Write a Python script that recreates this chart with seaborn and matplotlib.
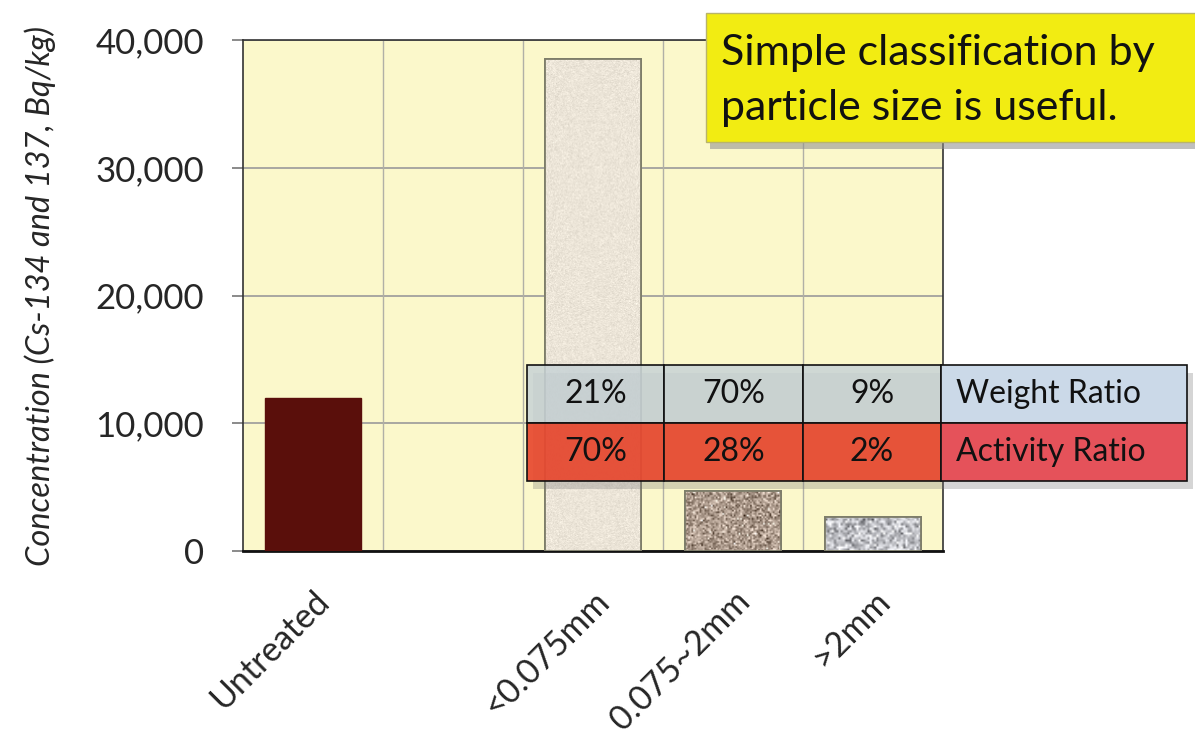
import numpy as np
import pandas as pd
import matplotlib
matplotlib.use("Agg")
import matplotlib.pyplot as plt
from matplotlib.patches import Rectangle
import seaborn as sns

# Radiocesium concentration by soil fraction
categories = ["Untreated", "", "<0.075mm", "0.075~2mm", ">2mm"]
measured = ["Untreated", "<0.075mm", "0.075~2mm", ">2mm"]
concentration = [12000, 38500, 4700, 2700]
y_ticks = [0, 10000, 20000, 30000, 40000]

# Share of each fraction (columns: <0.075mm, 0.075~2mm, >2mm)
table_rows = ["Weight Ratio", "Activity Ratio"]
weight_ratio = ["21%", "70%", "9%"]
activity_ratio = ["70%", "28%", "2%"]

callout_lines = ["Simple classification by", "particle size is useful."]

bar_colors = {"Untreated": "#5a0f0b", "<0.075mm": "#ebe4d6",
              "0.075~2mm": "#a8978a", ">2mm": "#b9babf"}

sns.set_theme(style="white")
plt.rcParams["font.family"] = ["Lato", "DejaVu Sans"]

W, H = 1195, 736
fig = plt.figure(figsize=(W / 100, H / 100), dpi=100)
ax = fig.add_axes([243 / W, 1 - 551 / H, 700 / W, 511 / H])
ax.set_facecolor("#fbf8cb")

df = pd.DataFrame({"fraction": measured, "conc": concentration})
sns.barplot(data=df, x="fraction", y="conc", order=categories,
            hue="fraction", palette=bar_colors, legend=False, saturation=1,
            width=0.68, ax=ax, zorder=3)

# granular textures on the fraction bars
rng = np.random.default_rng(7)
tex = {"<0.075mm": (np.array([236, 229, 216]), 7, 1.0),
       "0.075~2mm": (np.array([172, 154, 140]), 42, 1.6),
       ">2mm": (np.array([192, 193, 198]), 42, 2.2)}
bars = [p for p in ax.patches if p.get_height() > 0]
bars.sort(key=lambda p: p.get_x())
for name, patch in zip(measured, bars):
    if name == "Untreated":
        patch.set_edgecolor("#5a0f0b")
        continue
    patch.set_edgecolor("#7d7d6a")
    patch.set_linewidth(1.3)
    base, amp, blob = tex[name]
    x0, y0 = patch.get_x(), patch.get_y()
    w, h = patch.get_width(), patch.get_height()
    ny = max(6, int(h / 40000 * 510 / blob))
    nx = max(6, int(95 / blob))
    n = rng.normal(0, 1, (ny, nx))
    img = np.clip(base[None, None, :] + amp * n[..., None], 0, 255) / 255.0
    im = ax.imshow(img, extent=[x0, x0 + w, y0, y0 + h], aspect="auto",
                   interpolation="bilinear", zorder=3.2, origin="lower")
    im.set_clip_path(patch)
    # outline drawn again above the texture
    ax.add_patch(Rectangle((x0, y0), w, h, facecolor="none",
                           edgecolor="#7d7d6a", linewidth=1.3, zorder=3.4))

ax.set_xlim(-0.5, 4.5)
ax.set_ylim(0, 40000)
ax.set_yticks(y_ticks)
ax.set_yticklabels([f"{v:,}" for v in y_ticks])
ax.yaxis.grid(True, color="#9a9a9a", linewidth=1.2, zorder=1)
for b in [0.5, 1.5, 2.5, 3.5]:
    ax.axvline(b, color="#b0b0a6", linewidth=1.0, zorder=1)

ax.set_xticks([0, 2, 3, 4])
ax.set_xticklabels([c for c in categories if c], rotation=45, ha="right",
                   va="top", rotation_mode="anchor", fontsize=24.5)
ax.set_xticks([-0.5, 1.5, 3.5], minor=True)
ax.tick_params(axis="x", which="major", length=0, pad=24)
ax.tick_params(axis="x", which="minor", length=15, width=1.2,
               color="#555555", direction="out")
ax.tick_params(axis="y", which="major", length=8, width=1.2,
               color="#777777", labelsize=25, pad=20, left=True)
ax.set_xlabel("")
ax.set_ylabel("Concentration (Cs-134 and 137, Bq/kg)", fontsize=23.5,
              style="italic", labelpad=28)
for s in ["left", "top", "right"]:
    ax.spines[s].set_color("#333333")
    ax.spines[s].set_linewidth(1.2)
ax.spines["bottom"].set_color("#111111")
ax.spines["bottom"].set_linewidth(2.0)

# overlay for callout and ratio table, in pixel units
ov = fig.add_axes([0, 0, 1, 1], zorder=5)
ov.set_xlim(0, W)
ov.set_ylim(H, 0)
ov.axis("off")
ov.patch.set_alpha(0)

# callout box with drop shadow
ov.add_patch(Rectangle((710, 19), 500, 130, facecolor="#8c8c8c",
                       alpha=0.55, edgecolor="none"))
ov.add_patch(Rectangle((706, 13), 500, 129, facecolor="#f2ec12",
                       edgecolor="#b9b46a", linewidth=1))
for i, line in enumerate(callout_lines):
    ov.text(721, 65 + 55 * i, line, fontsize=31, va="baseline", ha="left",
            color="#111111")

# ratio table
col_edges = [527, 664, 803, 941, 1187]
row_edges = [365, 423, 481]
ov.add_patch(Rectangle((col_edges[0] + 6, row_edges[0] + 8),
                       col_edges[-1] - col_edges[0],
                       row_edges[-1] - row_edges[0],
                       facecolor="#777777", alpha=0.3, edgecolor="none"))
rows = [weight_ratio, activity_ratio]
fills = [("#c8d3d6", 0.85, "#cbd9e8"), ("#e8482f", 0.92, "#e5525a")]
for r, (vals, label) in enumerate(zip(rows, table_rows)):
    top, bot = row_edges[r], row_edges[r + 1]
    cfill, calpha, lfill = fills[r]
    for c, v in enumerate(vals):
        l, rr = col_edges[c], col_edges[c + 1]
        ov.add_patch(Rectangle((l, top), rr - l, bot - top, facecolor=cfill,
                               alpha=calpha, edgecolor="none"))
        ov.add_patch(Rectangle((l, top), rr - l, bot - top, facecolor="none",
                               edgecolor="#111111", linewidth=1.2))
        ov.text((l + rr) / 2, (top + bot) / 2, v, fontsize=23,
                ha="center", va="center", color="#111111")
    l, rr = col_edges[3], col_edges[4]
    ov.add_patch(Rectangle((l, top), rr - l, bot - top, facecolor=lfill,
                           edgecolor="#111111", linewidth=1.2))
    ov.text(l + 15, (top + bot) / 2, label, fontsize=23, ha="left",
            va="center", color="#111111")

fig.savefig("out.png", dpi=100)
